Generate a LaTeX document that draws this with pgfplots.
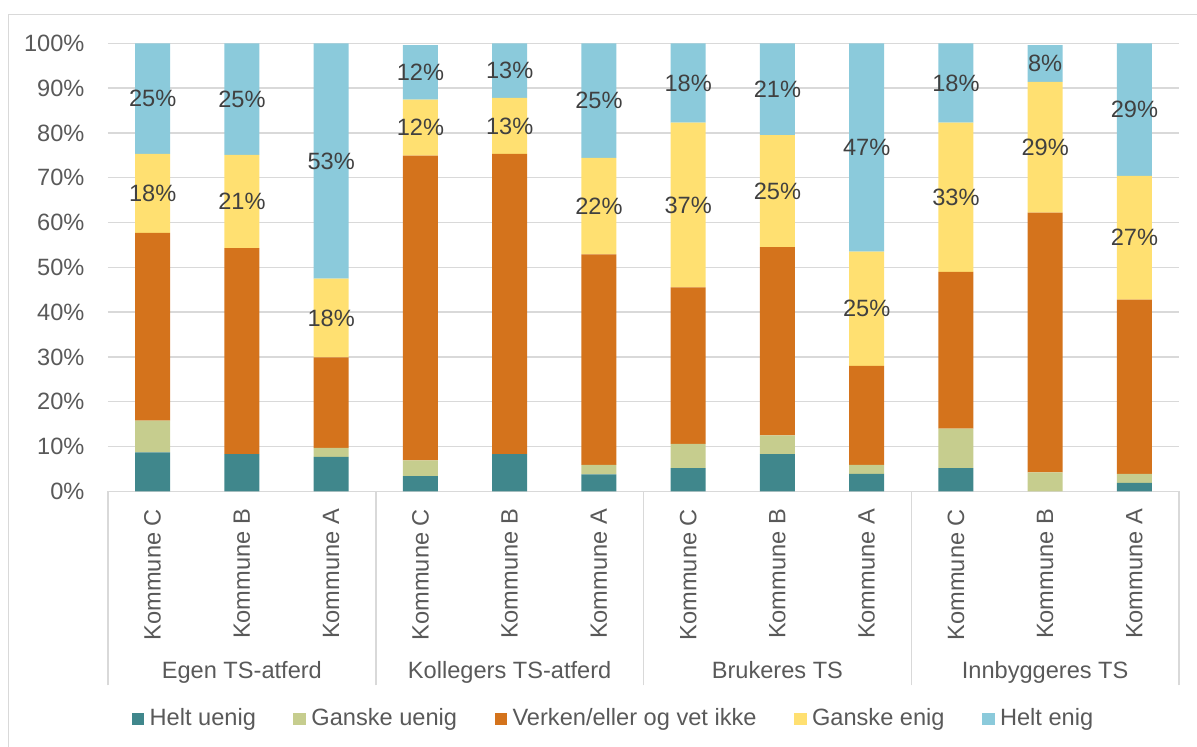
\documentclass[border=0pt]{standalone}
\usepackage{fontspec}
\setmainfont{Liberation Sans}
\usepackage{pgfplots}
\usepackage{pgfplotstable}
\pgfplotsset{compat=1.18}

\definecolor{cTeal}{RGB}{64,135,140}
\definecolor{cGreen}{RGB}{198,205,142}
\definecolor{cOrange}{RGB}{212,115,28}
\definecolor{cYellow}{RGB}{255,224,113}
\definecolor{cBlue}{RGB}{139,202,219}
\definecolor{cGrid}{RGB}{217,217,217}
\definecolor{cText}{RGB}{89,89,89}
\definecolor{cLab}{RGB}{64,64,64}

\pgfplotstableread{
x hu gu vk ge he
0  8.7 7.1 41.9 17.6 24.7
1  8.3 0.0 46.0 20.8 24.9
2  7.7 2.0 20.2 17.6 52.5
3  3.4 3.5 68.0 12.5 12.2
4  8.3 0.0 67.0 12.5 12.2
5  3.8 2.1 47.0 21.5 25.6
6  5.2 5.4 34.9 36.8 17.7
7  8.3 4.2 42.0 25.0 20.5
8  3.9 2.0 22.1 25.5 46.5
9  5.2 8.8 35.0 33.3 17.7
10 0.0 4.2 58.0 29.2 8.2
11 1.9 2.0 38.9 27.6 29.6
}\data

\pgfplotstableread{
x y lab
0  66.5  18
0  87.65 25
1  64.7  21
1  87.55 25
2  38.7  18
2  73.75 53
3  81.15 12
3  93.5  12
4  81.55 13
4  93.9  13
5  63.65 22
5  87.2  25
6  63.9  37
6  91.15 18
7  67.0  25
7  89.75 21
8  40.75 25
8  76.75 47
9  65.65 33
9  91.15 18
10 76.8  29
10 95.5  8
11 56.6  27
11 85.2  29
}\labels

\begin{document}
\fontsize{23.6bp}{28bp}\selectfont
\begin{tikzpicture}
\begin{axis}[
  name=ax, at={(0,0)}, anchor=south west,
  scale only axis, width=1071bp, height=448bp,
  ybar stacked, bar width=35bp,
  xmin=-0.5, xmax=11.5, ymin=0, ymax=100,
  clip=false,
  axis x line=bottom, axis y line=left,
  y axis line style={draw=none},
  x axis line style={-, cGrid, line width=1.5bp},
  ymajorgrids, grid style={cGrid, line width=1.5bp},
  tick style={draw=none},
  xtick={0,...,11},
  xticklabels={Kommune C,Kommune B,Kommune A,Kommune C,Kommune B,Kommune A,Kommune C,Kommune B,Kommune A,Kommune C,Kommune B,Kommune A},
  xticklabel style={rotate=90, anchor=east, inner xsep=15.4bp, inner ysep=0pt, text=cText},
  ytick={0,10,...,100},
  yticklabels={0\%,10\%,20\%,30\%,40\%,50\%,60\%,70\%,80\%,90\%,100\%},
  yticklabel style={anchor=east, inner xsep=21.3bp, inner ysep=0pt, text=cText},
  extra x ticks={-0.5,2.5,5.5,8.5,11.5},
  extra x tick labels={},
  extra x tick style={tick style={draw=cGrid, line width=1.5bp}, major tick length=194bp, tick align=outside},
  legend columns=5,
  legend style={at={(axis description cs:0.471,-0.508)}, anchor=center, draw=none, fill=none,
     nodes={inner sep=0pt, text=cText},
     /tikz/every odd column/.append style={column sep=5.3bp},
     /tikz/every even column/.append style={column sep=37.5bp}},
  every axis plot/.append style={draw=none, legend image code/.code={\fill[##1] (0bp,-6.3bp) rectangle (12.7bp,6.3bp);}},
]
\addplot[fill=cTeal, draw=none] table[x=x,y=hu] \data;
\addlegendentry{Helt uenig}
\addplot[fill=cGreen, draw=none] table[x=x,y=gu] \data;
\addlegendentry{Ganske uenig}
\addplot[fill=cOrange, draw=none] table[x=x,y=vk] \data;
\addlegendentry{Verken/eller og vet ikke}
\addplot[fill=cYellow, draw=none] table[x=x,y=ge] \data;
\addlegendentry{Ganske enig}
\addplot[fill=cBlue, draw=none] table[x=x,y=he] \data;
\addlegendentry{Helt enig}

\node[anchor=base, text=cText, inner sep=0pt] at (axis cs:1,0) [yshift=-186.7bp] {Egen TS-atferd};
\node[anchor=base, text=cText, inner sep=0pt] at (axis cs:4,0) [yshift=-186.7bp] {Kollegers TS-atferd};
\node[anchor=base, text=cText, inner sep=0pt] at (axis cs:7,0) [yshift=-186.7bp] {Brukeres TS};
\node[anchor=base, text=cText, inner sep=0pt] at (axis cs:10,0) [yshift=-186.7bp] {Innbyggeres TS};
\end{axis}

\begin{axis}[
  at={(0,0)}, anchor=south west,
  scale only axis, width=1071bp, height=448bp,
  xmin=-0.5, xmax=11.5, ymin=0, ymax=100,
  hide axis, clip=false,
]
\addplot[draw=none, nodes near coords={\pgfplotspointmeta\%}, point meta=explicit symbolic,
  nodes near coords style={anchor=center, text=cLab, inner sep=0pt}]
  table[x=x,y=y,meta=lab] \labels;
\end{axis}

\draw[cGrid, line width=1.5bp] ([shift={(-99.5bp,-255.7bp)}]ax.south west) -- ([shift={(-99.5bp,476.8bp)}]ax.south west) -- ([shift={(1089bp,476.8bp)}]ax.south west);
\pgfresetboundingbox
\path ([shift={(-108bp,-255.7bp)}]ax.south west) rectangle ([shift={(1089bp,491.3bp)}]ax.south west);
\end{tikzpicture}
\end{document}
